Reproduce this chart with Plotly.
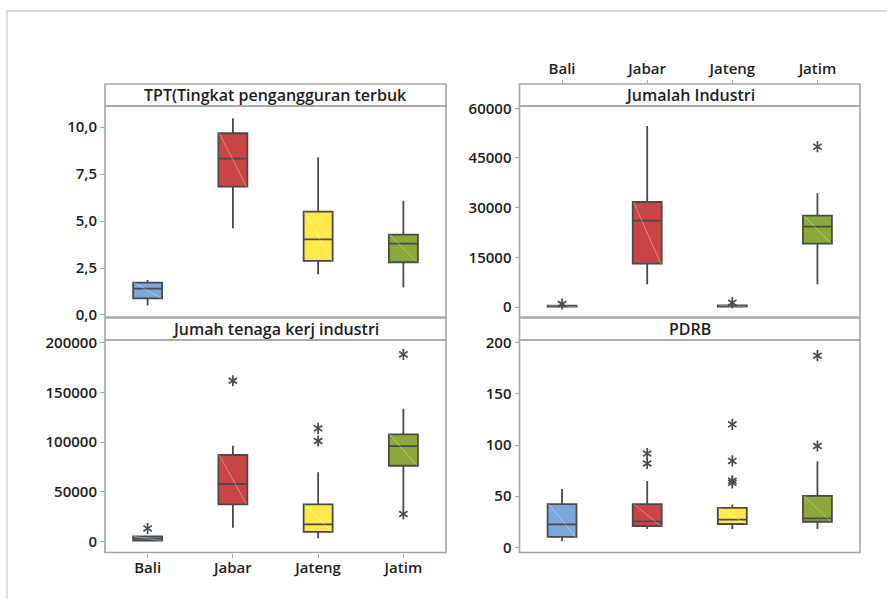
import plotly.graph_objects as go

W, H = 887, 599

categories = ["Bali", "Jabar", "Jateng", "Jatim"]
box_colors = ["#7BA7DB", "#C94545", "#FFE94A", "#8CA83A"]

# TPT (Tingkat pengangguran terbuka): whisker ends, quartiles, median, outliers
tpt_low = [0.50, 4.62, 2.17, 1.47]
tpt_q1 = [0.89, 6.84, 2.88, 2.81]
tpt_med = [1.40, 8.33, 4.03, 3.80]
tpt_q3 = [1.72, 9.68, 5.51, 4.28]
tpt_high = [1.86, 10.48, 8.40, 6.09]
tpt_out = [[], [], [], []]

# Jumlah industri
ind_low = [30, 6850, 40, 6850]
ind_q1 = [120, 13090, 150, 19130]
ind_med = [250, 26070, 300, 24260]
ind_q3 = [420, 31710, 500, 27580]
ind_high = [650, 54670, 800, 34330]
ind_out = [[900], [], [1300], [48420]]

# Jumlah tenaga kerja industri
tk_low = [200, 13760, 3020, 32500]
tk_q1 = [700, 37250, 9400, 76060]
tk_med = [2600, 57700, 17110, 95900]
tk_q3 = [5000, 86900, 37250, 107650]
tk_high = [5500, 96300, 69460, 133560]
tk_out = [[13000], [161700], [101000, 113760], [27500, 188250]]

# PDRB
pdrb_low = [6.2, 17.9, 17.9, 17.9]
pdrb_q1 = [10.1, 20.8, 22.8, 25.0]
pdrb_med = [22.5, 25.4, 27.0, 28.3]
pdrb_q3 = [42.3, 42.3, 38.6, 50.3]
pdrb_high = [57.0, 64.8, 41.9, 84.1]
pdrb_out = [[], [82.0, 91.6], [63.0, 65.0, 84.4, 120.2], [99.0, 187.3]]

tpt_ticks = [0, 2.5, 5, 7.5, 10]
tpt_ticktext = ["0,0", "2,5", "5,0", "7,5", "10,0"]
ind_ticks = [0, 15000, 30000, 45000, 60000]
tk_ticks = [0, 50000, 100000, 150000, 200000]
pdrb_ticks = [0, 50, 100, 150, 200]

panel_titles = ["TPT(Tingkat pengangguran terbuk", "Jumalah Industri",
                "Jumah tenaga kerj industri", "PDRB"]

# ---- panel geometry in pixels ----
LEFT_X = (105, 446)
RIGHT_X = (519.5, 860)
TOP_ROW = dict(head=(84, 106), plot=(106, 317))
BOT_ROW = dict(head=(318, 340), plot=(340, 552.5))

def px(x):
    return x / W

def py(y):
    return 1 - y / H

BOX_W = 0.34
EDGE = "#4A4A4A"
FRAME = "#A6A6A6"
TEXT = "#1E1E1E"
FONT = "Open Sans"

panels = [
    dict(ax="", cols=LEFT_X, row=TOP_ROW, rng=[-0.107, 11.13],
         stats=(tpt_low, tpt_q1, tpt_med, tpt_q3, tpt_high, tpt_out),
         ticks=tpt_ticks, ticktext=tpt_ticktext),
    dict(ax="2", cols=RIGHT_X, row=TOP_ROW, rng=[-3020, 60700],
         stats=(ind_low, ind_q1, ind_med, ind_q3, ind_high, ind_out),
         ticks=ind_ticks, ticktext=[str(v) for v in ind_ticks]),
    dict(ax="3", cols=LEFT_X, row=BOT_ROW, rng=[-11280, 202720],
         stats=(tk_low, tk_q1, tk_med, tk_q3, tk_high, tk_out),
         ticks=tk_ticks, ticktext=[str(v) for v in tk_ticks]),
    dict(ax="4", cols=RIGHT_X, row=BOT_ROW, rng=[-5.08, 202.64],
         stats=(pdrb_low, pdrb_q1, pdrb_med, pdrb_q3, pdrb_high, pdrb_out),
         ticks=pdrb_ticks, ticktext=[str(v) for v in pdrb_ticks]),
]

fig = go.Figure()
tick_font = dict(family=FONT, size=15, color=TEXT, weight=600)

shapes = []
annotations = []

for k, p in enumerate(panels):
    xa, ya = "x" + p["ax"], "y" + p["ax"]
    low, q1, med, q3, high, out = p["stats"]
    for i, cat in enumerate(categories):
        fig.add_trace(go.Box(
            x=[i], q1=[q1[i]], median=[med[i]], q3=[q3[i]],
            lowerfence=[low[i]], upperfence=[high[i]],
            width=BOX_W, whiskerwidth=0, boxpoints=False,
            fillcolor=box_colors[i], line=dict(color=EDGE, width=1.8),
            xaxis=xa, yaxis=ya, showlegend=False, hoverinfo="skip",
        ))
        # faint diagonal sheen across each box
        fig.add_trace(go.Scatter(
            x=[i - BOX_W / 2 + 0.01, i + BOX_W / 2 - 0.01], y=[q3[i], q1[i]],
            mode="lines", line=dict(color="rgba(255,255,255,0.45)", width=0.8),
            xaxis=xa, yaxis=ya, showlegend=False, hoverinfo="skip",
        ))
        if out[i]:
            # six-armed asterisk built from two overlaid Y glyphs
            for sym in ("y-up-open", "y-down-open"):
                fig.add_trace(go.Scatter(
                    x=[i] * len(out[i]), y=out[i], mode="markers",
                    marker=dict(symbol=sym, size=7, color=EDGE,
                                line=dict(color=EDGE, width=1.7)),
                    xaxis=xa, yaxis=ya, showlegend=False, hoverinfo="skip",
                ))

    x0, x1 = p["cols"]
    h0, h1 = p["row"]["head"]
    p0, p1 = p["row"]["plot"]

    xkey = "xaxis" + p["ax"]
    ykey = "yaxis" + p["ax"]
    xcfg = dict(domain=[px(x0), px(x1)], range=[-0.5, 3.5], showgrid=False,
                zeroline=False, showline=False, fixedrange=True,
                automargin=False,
                tickvals=list(range(len(categories))), ticktext=categories,
                tickfont=tick_font, ticks="", showticklabels=False)
    if p["ax"] == "3":
        xcfg.update(anchor=ya, ticks="outside", ticklen=4, tickcolor=FRAME,
                    showticklabels=True, ticklabelstandoff=-3)
    elif p["ax"] == "2":
        xcfg.update(anchor="free", side="top", position=py(h0), ticks="outside",
                    ticklen=4, tickcolor=FRAME, showticklabels=True)
    else:
        xcfg.update(anchor=ya)
    ycfg = dict(domain=[py(p1), py(p0)], range=p["rng"], anchor=xa,
                showgrid=False, zeroline=False, showline=False, fixedrange=True,
                automargin=False,
                tickvals=p["ticks"], ticktext=p["ticktext"], ticks="outside",
                ticklen=4, tickcolor=FRAME, tickfont=tick_font)
    fig.layout[xkey] = xcfg
    fig.layout[ykey] = ycfg

    # header strip and plot frame
    shapes.append(dict(type="rect", xref="paper", yref="paper",
                       x0=px(x0), x1=px(x1), y0=py(h1), y1=py(h0),
                       line=dict(color=FRAME, width=1.6), fillcolor="white",
                       layer="below"))
    shapes.append(dict(type="rect", xref="paper", yref="paper",
                       x0=px(x0), x1=px(x1), y0=py(p1), y1=py(p0),
                       line=dict(color=FRAME, width=1.6), layer="above"))
    annotations.append(dict(text=panel_titles[k], xref="paper", yref="paper",
                            x=px((x0 + x1) / 2), y=py((h0 + h1) / 2),
                            xanchor="center", yanchor="middle", showarrow=False,
                            font=dict(family=FONT, size=16, color=TEXT, weight=600)))

# outer window frame
shapes.append(dict(type="rect", xref="paper", yref="paper",
                   x0=px(7), x1=px(W + 20), y0=py(H + 20), y1=py(11),
                   line=dict(color="#D2D2D2", width=1.5), layer="below"))

fig.update_layout(
    width=W, height=H, autosize=False,
    margin=dict(l=0, r=0, t=0, b=0, autoexpand=False),
    paper_bgcolor="white", plot_bgcolor="white",
    shapes=shapes, annotations=annotations,
    font=dict(family=FONT, color=TEXT),
)

fig.write_html("out.html")
